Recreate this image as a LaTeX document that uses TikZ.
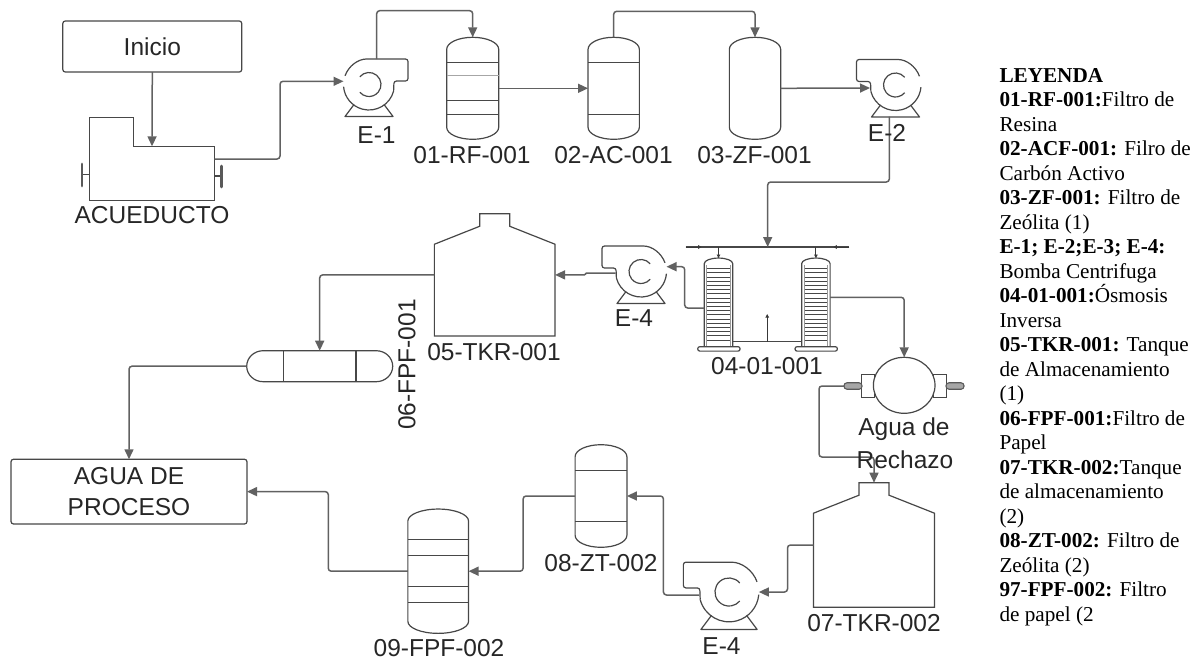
\documentclass[tikz,border=0pt]{standalone}
\usepackage{fontspec}
\setmainfont{Liberation Sans}
\newfontfamily\leyfont{Liberation Serif}
\usetikzlibrary{arrows.meta}
\usetikzlibrary{shapes.geometric}

\begin{document}
\begin{tikzpicture}[x=1pt, y=-1pt, >={Triangle[length=10pt,width=9pt]},
    linea/.style={draw=black!72, line width=1.2pt},
    flujo/.style={->, draw=black!62, line width=1.5pt, rounded corners=3pt},
    chica/.style={-{Triangle[length=3.5pt,width=3.5pt]}, draw=black!78, line width=1pt},
    raya/.style={draw=black!72, line width=1pt},
    hueco/.style={inner sep=0pt, outer sep=0pt},
    caja/.style={draw=black!72, line width=1.2pt, rounded corners=2.5pt, hueco, text=black!85, font=\fontsize{24.5}{31}\selectfont, align=center},
    etq/.style={text=black!85, inner sep=0pt, font=\fontsize{24.5}{31}\selectfont},
    capsula/.style={draw=black!65, fill=black!35, line width=1.1pt, rounded corners=3pt, hueco, minimum width=18pt, minimum height=6.5pt},
    bomba/.pic={
        % Carcasa con la salida hacia la derecha
        \draw[linea, rounded corners=2.5pt] (200:25.5) arc[start angle=200, end angle=270, radius=25.5]
            -- (39,-25.5) -- (39,-3.5) -- (25,-3.5) -- (24.6,6.6);
        \draw[linea] (24.6,6.6) arc[start angle=15, end angle=175, radius=25.5];
        \draw[linea] (220:12) arc[start angle=220, end angle=500, radius=12];
        % Base
        \draw[linea, line join=round] (-15,20) -- (-24,32) -- (24,32) -- (15,20);
    }]

    \useasboundingbox (0,0) rectangle (1202,662);

    % Macros de los equipos
    \def\vaso#1#2{\draw[linea] ([yshift=-12pt]#1.north west) arc[start angle=180, end angle=360, x radius=#2, y radius=12]
        -- ([yshift=12pt]#1.south east) arc[start angle=0, end angle=180, x radius=#2, y radius=12] -- cycle;}
    \def\banda#1#2{\draw[raya] ([yshift=-#2pt]#1.north west) -- ([yshift=-#2pt]#1.north east);}
    \def\tanque#1{\draw[linea] (#1.south west) -- ([yshift=-30.5pt]#1.north west) -- ([xshift=-15pt,yshift=-12.5pt]#1.north)
        -- ([xshift=-15pt]#1.north) -- ([xshift=15pt]#1.north) -- ([xshift=15pt,yshift=-12.5pt]#1.north)
        -- ([yshift=-30.5pt]#1.north east) -- (#1.south east) -- cycle;}
    \def\columna#1{\draw[linea] (#1.south west) -- ([yshift=-5.5pt]#1.north west) arc[start angle=180, end angle=360, x radius=14.2, y radius=5.5] -- (#1.south east);
        \draw[raya, draw=black!40] ([xshift=2.4pt,yshift=-7pt]#1.north west) -- ([xshift=2.4pt]#1.south west);
        \draw[raya, draw=black!40] ([xshift=-2.4pt,yshift=-7pt]#1.north east) -- ([xshift=-2.4pt]#1.south east);
        \foreach \k in {0,...,17} {
            \draw[raya] ([xshift=3pt,yshift={-10.7pt-4.2pt*\k}]#1.north west) -- ([xshift=-3pt,yshift={-10.7pt-4.2pt*\k}]#1.north east);
        }}

    % Inicio y acueducto
    \node[caja, minimum width=179pt, minimum height=51pt] (inicio) at (152.3,46.5) {Inicio};
    \node[hueco, minimum width=125.4pt, minimum height=83.4pt] (acu) at (152,159) {};
    \draw[linea] (89.3,117.3) -- (133.3,117.3) -- (133.3,146.7) -- (214.7,146.7) -- (214.7,200.7) -- (89.3,200.7) -- cycle;
    \draw[linea] (89.3,174.7) -- (82,174.7);
    \draw[black!65, line width=2.8pt, line cap=round] (82,164) -- (82,186);
    \draw[linea] (214.7,176) -- (221.7,176);
    \draw[black!65, line width=2.8pt, line cap=round] (221.7,166) -- (221.7,187);
    \node[etq] (lacu) at (152,215) {ACUEDUCTO};

    % Bombas
    \node[circle, hueco, minimum size=51pt] (b1) at (369,84.5) {};
    \node[circle, hueco, minimum size=51pt] (b2) at (895.5,85) {};
    \node[circle, hueco, minimum size=51pt] (b4) at (641,271.5) {};
    \node[circle, hueco, minimum size=59.7pt] (b5) at (729,592) {};
    \pic at (b1) {bomba};
    \pic[xscale=-1] at (b2) {bomba};
    \pic[xscale=-1] at (b4) {bomba};
    \pic[scale=1.17, xscale=-1] at (b5) {bomba};
    \node[etq] (lb1) at (376.5,135) {E-1};
    \node[etq] (lb4) at (634,318) {E-4};
    \node[etq] (lb5) at (721.5,646) {E-4};

    % Filtros de la primera linea
    \node[hueco, minimum width=52pt, minimum height=102pt] (rf) at (472.7,88.3) {};
    \node[hueco, minimum width=51.3pt, minimum height=102pt] (ac) at (613.7,88.3) {};
    \node[hueco, minimum width=51.3pt, minimum height=102pt] (zf) at (755,88.3) {};
    \vaso{rf}{26}
    \vaso{ac}{25.65}
    \vaso{zf}{25.65}
    \banda{rf}{25.4}
    \draw[raya, draw=black!35] ([yshift=-37.7pt]rf.north west) -- ([yshift=-37.7pt]rf.north east);
    \banda{rf}{63.4}
    \banda{rf}{76.7}
    \banda{ac}{25}
    \banda{ac}{76.7}
    \node[etq] (lrf) at (472,155) {01-RF-001};
    \node[etq] (lac) at (613.5,155) {02-AC-001};
    \node[etq] (lzf) at (754.5,155) {03-ZF-001};

    % Tanques
    \node[hueco, minimum width=120.7pt, minimum height=122.3pt] (t05) at (494.7,274.9) {};
    \node[hueco, minimum width=121pt, minimum height=124.6pt] (t07) at (874,545) {};
    \tanque{t05}
    \tanque{t07}
    \node[etq] (lt05) at (494,351.7) {05-TKR-001};
    \node[etq] (lt07) at (874,622.7) {07-TKR-002};

    % Filtro de papel horizontal
    \node[hueco, minimum width=146pt, minimum height=31pt] (f06) at (319.7,366.2) {};
    \draw[linea] ([xshift=16.5pt]f06.north west) -- ([xshift=-16.5pt]f06.north east)
        arc[start angle=270, end angle=450, x radius=16.5, y radius=15.5]
        -- ([xshift=16.5pt]f06.south west) arc[start angle=90, end angle=270, x radius=16.5, y radius=15.5] -- cycle;
    \draw[linea] ([xshift=-36.2pt]f06.north) -- ([xshift=-36.2pt]f06.south);
    \draw[linea] ([xshift=36.2pt]f06.north) -- ([xshift=36.2pt]f06.south);
    \node[etq, rotate=90] (lf06) at (407,364.5) {06-FPF-001};

    % Osmosis inversa
    \node[hueco, minimum width=28.4pt, minimum height=88.7pt] (ro1) at (718.5,302.4) {};
    \node[hueco, minimum width=28.4pt, minimum height=88.7pt] (ro2) at (815.9,302.4) {};
    \columna{ro1}
    \columna{ro2}
    \node[linea, fill=white, rounded corners=2pt, hueco, minimum width=42.3pt, minimum height=4.4pt] (bas1) at (718.9,348.9) {};
    \node[linea, fill=white, rounded corners=2pt, hueco, minimum width=42.3pt, minimum height=4.4pt] (bas2) at (816.2,348.9) {};
    \coordinate (cabi) at (685.7,247);
    \coordinate (cabd) at (849.3,247);
    \coordinate (cabc) at (767.7,247);
    \draw[raya, line width=1.2pt] (cabi) -- (cabd);
    \draw[chica] (cabi) -- ++(16,0);
    \draw[chica] (cabd) -- ++(-16,0);
    \draw[chica] (ro1.north |- cabi) -- (ro1.north);
    \draw[chica] (ro2.north |- cabi) -- (ro2.north);
    \draw[raya, line width=1.2pt] ([yshift=5pt]ro1.south east) -- ([yshift=5pt]ro2.south west) coordinate[midway] (med);
    \draw[chica] (med) -- ++(0,-27.7);
    \node[etq] (lro) at (767,366) {04-01-001};

    % Intercambiador de agua de rechazo
    \node[linea, fill=white, hueco, minimum width=13pt, minimum height=23.4pt] (cajai) at (868,386) {};
    \node[linea, fill=white, hueco, minimum width=13.7pt, minimum height=23.4pt] (cajad) at (940,386) {};
    \node[capsula] (capi) at (853,386) {};
    \node[capsula] (capd) at (955,386) {};
    \node[ellipse, linea, fill=white, hueco, minimum width=61.6pt, minimum height=56pt] (inter) at (904.2,385.3) {};

    % Otros filtros
    \node[hueco, minimum width=51.8pt, minimum height=102.6pt] (z8) at (601,496) {};
    \node[hueco, minimum width=60.7pt, minimum height=124.3pt] (f9) at (438.2,571.2) {};
    \vaso{z8}{25.9}
    \vaso{f9}{30.35}
    \banda{z8}{25.3}
    \banda{z8}{76.6}
    \banda{f9}{30.3}
    \banda{f9}{46.3}
    \banda{f9}{77.7}
    \banda{f9}{93.7}
    \node[etq] (lz8) at (601,562.7) {08-ZT-002};
    \node[etq] (lf9) at (439,648.3) {09-FPF-002};

    \node[caja, minimum width=236pt, minimum height=64.7pt] (agua) at (129,491.6) {AGUA DE\\PROCESO};

    % Conexiones
    \draw[flujo] (inicio.south) -- ([yshift=-29pt]acu.north);
    \draw[flujo] (acu.east) -- ++(65.3,0) |- ([yshift=3.2pt]b1.west);
    \draw[flujo] ([xshift=7.7pt]b1.north) -- ++(0,-48.3) -| (rf.north);
    \draw[flujo] (rf.east) -- (ac.west);
    \draw[flujo] (ac.north) -- ++(0,-26) -| (zf.north);
    \draw[flujo] (zf.east) -- ([yshift=-3pt]b2.west);
    \draw[flujo] ([xshift=-6.2pt,yshift=-6pt]b2.south) -- ++(0,65.5) -| (cabc);
    \draw[flujo] ([yshift=-5.6pt]ro1.west) -- ++(-19.6,0) |- ([yshift=4.8pt]b4.east);
    \draw[flujo] ([yshift=5.1pt]ro2.east) -| (inter.north);
    \draw[flujo, sharp corners] ([yshift=-1.5pt]b4.west) -- ++(-29,0) -- ++(-2,1.9) -- (t05.east);
    \draw[flujo] (t05.west) -| (f06.north);
    \draw[flujo] (f06.west) -| (agua.north);
    \draw[flujo] (capi.west) -| ++(-25,71) -| (t07.north);
    \draw[flujo] (t07.west) -- ++(-26,0) |- (b5.east);
    \draw[flujo] ([yshift=-3pt]b5.west) -- ++(-35.7,0) |- (z8.east);
    \draw[flujo] (z8.west) -- ++(-52,0) |- (f9.east);
    \draw[flujo] (f9.west) -- ++(-79.6,0) |- (agua.east);

    % Textos encima de las lineas
    \node[etq] (lb2) at (887,133) {E-2};
    \node[etq] (lag1) at (904,429) {Agua de};
    \node[etq] (lag2) at (905,460) {Rechazo};

    % Leyenda
    \node[anchor=north west, inner sep=0pt, align=left, font=\leyfont\fontsize{21.2}{24.5}\selectfont] (ley) at (999.3,68) {%
        \textbf{LEYENDA}\\
        \textbf{01-RF-001:}Filtro de\\
        Resina\\
        \textbf{02-ACF-001:} Filro de\\
        Carbón Activo\\
        \textbf{03-ZF-001:} Filtro de\\
        Zeólita (1)\\
        \textbf{E-1; E-2;E-3; E-4:}\\
        Bomba Centrifuga\\
        \textbf{04-01-001:}Ósmosis\\
        Inversa\\
        \textbf{05-TKR-001:} Tanque\\
        de Almacenamiento\\
        (1)\\
        \textbf{06-FPF-001:}Filtro de\\
        Papel\\
        \textbf{07-TKR-002:}Tanque\\
        de almacenamiento\\
        (2)\\
        \textbf{08-ZT-002:} Filtro de\\
        Zeólita (2)\\
        \textbf{97-FPF-002:} Filtro\\
        de papel (2};

\end{tikzpicture}
\end{document}
